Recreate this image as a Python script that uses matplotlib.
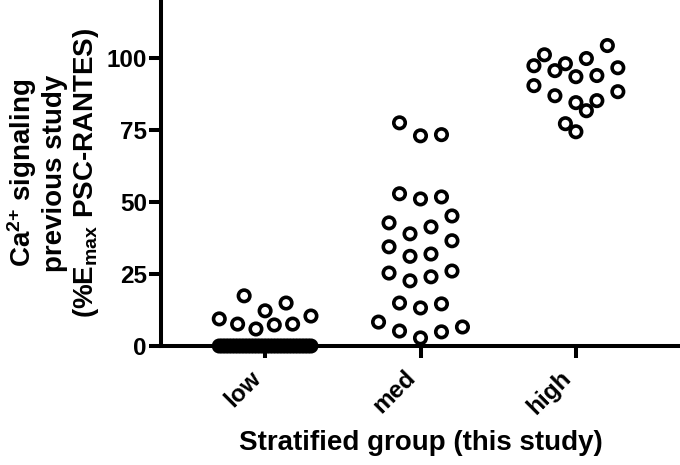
import numpy as np
import matplotlib
matplotlib.use('Agg')
import matplotlib.pyplot as plt

plt.rcParams['font.family'] = ['Liberation Sans', 'DejaVu Sans']
plt.rcParams['font.weight'] = 'bold'
plt.rcParams['mathtext.fontset'] = 'custom'
plt.rcParams['mathtext.rm'] = 'Liberation Sans:bold'
plt.rcParams['mathtext.it'] = 'Liberation Sans:bold'
plt.rcParams['mathtext.bf'] = 'Liberation Sans:bold'

# values (% Emax)
groups = ['low', 'med', 'high']
low = [0] * 30 + [5.9, 7.3, 7.6, 7.6, 9.4, 10.4, 12.2, 14.9, 17.4]
med = [2.8, 4.9, 5.2, 6.6, 8.3, 13.2, 14.6, 14.9, 22.6, 24.0, 25.3, 26.0,
       31.1, 31.9, 34.4, 36.5, 38.9, 41.3, 42.7, 45.1, 51.0, 51.7, 52.8,
       72.9, 73.3, 77.4]
high = [74.3, 77.1, 81.6, 84.4, 85.1, 86.8, 88.2, 90.3, 93.4, 93.8, 95.5,
        96.5, 97.2, 97.9, 99.7, 101.0, 104.2]
yticks = [0, 25, 50, 75, 100]


def swarm(values, row_height=6.5, step=0.135, half_width=0.295):
    # prism-like layout: group close values into rows, spread rows sideways
    vals = np.sort(np.asarray(values, float))[::-1]
    xs, ys = [], []
    i = 0
    while i < len(vals):
        j = i
        while j < len(vals) and vals[i] - vals[j] < row_height:
            j += 1
        row = np.sort(vals[i:j])
        n = len(row)
        s = step if n == 1 else min(step, 2 * half_width / (n - 1))
        for k, v in enumerate(row):
            if n % 2:
                pos = ((k + 1) // 2) * (1 if k % 2 else -1)
            else:
                pos = (k // 2 + 0.5) * (-1 if k % 2 == 0 else 1)
            xs.append(pos * s)
            ys.append(v)
        i = j
    return np.array(xs), np.array(ys)


fig = plt.figure(figsize=(6.8, 4.65), dpi=100)
ax = fig.add_axes([161 / 680, 1 - 346 / 465, 519 / 680, 346 / 465])

for i, data in enumerate([low, med, high]):
    dx, y = swarm(data)
    ax.scatter(i + dx, y, s=68, facecolors='none', edgecolors='black',
               linewidths=2.6, clip_on=False, zorder=3)

ax.set_xlim(-0.67, 2.67)
ax.set_ylim(0, 120)
ax.set_yticks(yticks)
ax.set_xticks(range(len(groups)))
ax.set_xticklabels(groups, rotation=45, ha='right', va='top')

for side in ['top', 'right']:
    ax.spines[side].set_visible(False)
for side in ['left', 'bottom']:
    ax.spines[side].set_linewidth(2.9)
ax.tick_params(axis='both', length=8.6, width=2.9, labelsize=17.5)
ax.tick_params(axis='y', pad=1.5)
ax.tick_params(axis='x', pad=6)

ax.set_xlabel('Stratified group (this study)', fontsize=20, fontweight='bold',
              labelpad=8)
ax.set_ylabel('Ca$^{2{+}}$ signaling\nprevious study\n(%E$_{max}$ PSC-RANTES)',
              fontsize=20, fontweight='bold', labelpad=4, linespacing=1.15)

plt.savefig('out.png', dpi=100)
